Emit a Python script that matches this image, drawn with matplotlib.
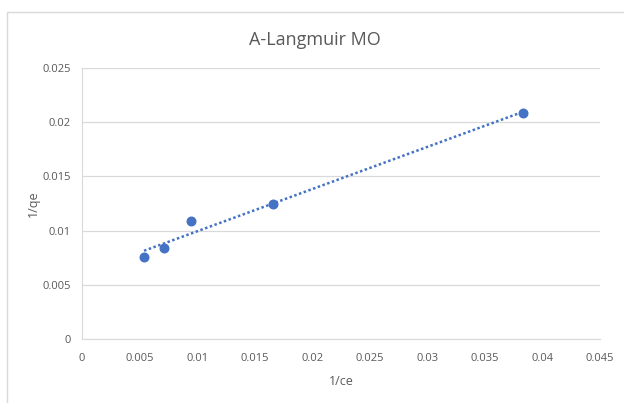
import numpy as np
import matplotlib.pyplot as plt
from matplotlib.patches import Rectangle

plt.rcParams['font.family'] = ['Open Sans', 'DejaVu Sans']

# data
inv_ce = [0.00539, 0.00712, 0.00947, 0.01659, 0.0383]
inv_qe = [0.00756, 0.00839, 0.01089, 0.01245, 0.02085]
x_ticks = [0, 0.005, 0.01, 0.015, 0.02, 0.025, 0.03, 0.035, 0.04, 0.045]
x_tick_labels = ['0', '0.005', '0.01', '0.015', '0.02', '0.025', '0.03', '0.035', '0.04', '0.045']
y_ticks = [0, 0.005, 0.01, 0.015, 0.02, 0.025]
y_tick_labels = ['0', '0.005', '0.01', '0.015', '0.02', '0.025']

blue = '#4472C4'
grey_txt = '#595959'
grid_c = '#d9d9d9'

fig = plt.figure(figsize=(6.24, 4.03), dpi=100)
# chart area border (like excel)
fig.patches.append(Rectangle((7/624, -0.1), 1.1, 1 - 12/403 + 0.1, transform=fig.transFigure,
                             fill=False, edgecolor='#d9d9d9', linewidth=1))
ax = fig.add_axes([82/624, 1 - 339/403, 518/624, 271/403])

# linear trendline
x = np.array(inv_ce)
y = np.array(inv_qe)
m, b = np.polyfit(x, y, 1)
xt = np.array([x.min(), x.max()])
ax.plot(xt, m*xt + b, linestyle=(0, (1, 1)), color=blue, linewidth=1.8, zorder=2)
ax.scatter(x, y, s=38, color=blue, zorder=3)

ax.set_xlim(0, 0.045)
ax.set_ylim(0, 0.025)
ax.set_xticks(x_ticks)
ax.set_xticklabels(x_tick_labels)
ax.set_yticks(y_ticks)
ax.set_yticklabels(y_tick_labels)
ax.tick_params(axis='x', length=0, colors=grey_txt, labelsize=8, pad=10)
ax.tick_params(axis='y', length=0, colors=grey_txt, labelsize=8, pad=8)
ax.grid(True, axis='y', color=grid_c, linewidth=0.9)
for s in ['top', 'right']:
    ax.spines[s].set_visible(False)
ax.spines['left'].set_color(grid_c)
ax.spines['bottom'].set_color(grid_c)
ax.set_axisbelow(True)

ax.set_xlabel('1/ce', color=grey_txt, fontsize=9, labelpad=8)
ax.set_ylabel('1/qe', color=grey_txt, fontsize=9, labelpad=2)
fig.text(315/624, 1 - 40/403, 'A-Langmuir MO', ha='center', va='center', fontsize=13, color=grey_txt)

fig.savefig('out.png', dpi=100)
